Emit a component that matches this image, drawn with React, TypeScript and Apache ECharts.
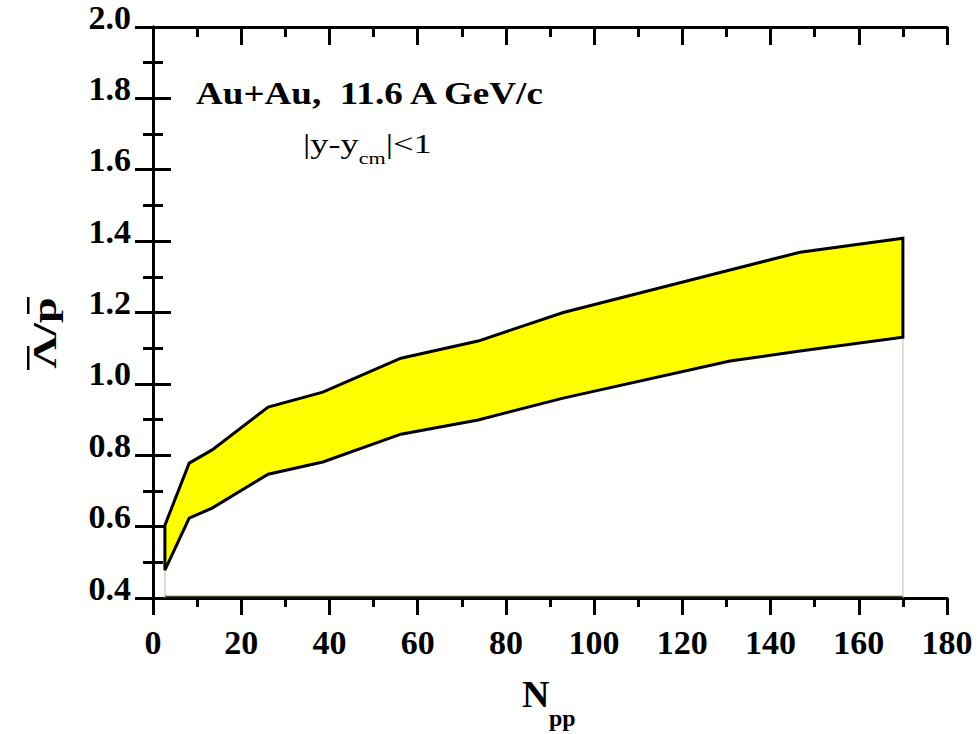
import React, { useEffect, useRef } from "react";
import * as echarts from "echarts";

const nppValues = [2.7, 8.2, 13.4, 26.1, 38.5, 56.2, 73.7, 93.0, 130.8, 146.7, 170.0];
const upperRatio = [0.604, 0.778, 0.815, 0.935, 0.977, 1.072, 1.12, 1.2, 1.319, 1.369, 1.408];
const lowerRatio = [0.478, 0.624, 0.652, 0.747, 0.781, 0.859, 0.899, 0.96, 1.064, 1.092, 1.131];
const yBase = 0.4;
const xTicks = { min: 0, max: 180, interval: 20 };
const yTicks = { min: 0.4, max: 2.0, interval: 0.2 };

const FONT = "Liberation Serif";

function ticks(inside: boolean) {
  return {
    axisLine: { show: true, lineStyle: { color: "#000", width: 3 } },
    axisTick: { show: true, inside, length: inside ? 18 : 17, lineStyle: { color: "#000", width: 3 } },
    minorTick: { show: true, splitNumber: 2, length: inside ? 10 : 9, lineStyle: { color: "#000", width: 3 } },
    splitLine: { show: false },
  };
}

export default function App() {
  const ref = useRef<HTMLDivElement>(null);
  useEffect(() => {
    if (!ref.current) return;
    const chart = echarts.init(ref.current, null, { renderer: "svg" });
    const data = nppValues.map((x, i) => [x, upperRatio[i], lowerRatio[i]]);
    const option: any = {
      animation: false,
      backgroundColor: "#fff",
      grid: { left: 153, right: 32, top: 27, bottom: 136, containLabel: false, outerBoundsMode: "none" },
      xAxis: [
        {
          type: "value",
          ...xTicks,
          ...ticks(false),
          axisLabel: { color: "#000", fontFamily: FONT, fontWeight: "bold", fontSize: 34, margin: 27 },
        },
        {
          type: "value",
          position: "top",
          ...xTicks,
          ...ticks(true),
          axisLabel: { show: false },
        },
      ],
      yAxis: [
        {
          type: "value",
          ...yTicks,
          ...ticks(true),
          axisLabel: {
            color: "#000",
            fontFamily: FONT,
            fontWeight: "bold",
            fontSize: 34,
            margin: 22,
            verticalAlign: "bottom",
            lineHeight: 20,
            formatter: (v: number) => v.toFixed(1),
          },
        },
        {
          type: "value",
          position: "right",
          ...yTicks,
          ...ticks(true),
          axisLabel: { show: false },
        },
      ],
      series: [
        {
          type: "custom",
          data,
          encode: { x: 0, y: [1, 2] },
          z: 1,
          renderItem: (params: any, api: any) => {
            if (params.dataIndex !== 0) return null;
            const up = nppValues.map((x, i) => api.coord([x, upperRatio[i]]));
            const lo = nppValues.map((x, i) => api.coord([x, lowerRatio[i]]));
            const n = nppValues.length;
            const baseL = api.coord([nppValues[0], yBase]);
            const baseR = api.coord([nppValues[n - 1], yBase]);
            const poly = up.concat(lo.slice().reverse());
            return {
              type: "group",
              children: [
                {
                  type: "line",
                  shape: { x1: lo[0][0], y1: lo[0][1], x2: baseL[0], y2: baseL[1] },
                  style: { stroke: "#bbb", lineWidth: 1 },
                },
                {
                  type: "line",
                  shape: { x1: lo[n - 1][0], y1: lo[n - 1][1], x2: baseR[0], y2: baseR[1] },
                  style: { stroke: "#bbb", lineWidth: 1 },
                },
                {
                  type: "line",
                  shape: { x1: baseL[0], y1: baseL[1] - 1.5, x2: baseR[0], y2: baseR[1] - 1.5 },
                  style: { stroke: "#4a4a30", lineWidth: 1.5 },
                },
                {
                  type: "polygon",
                  shape: { points: poly },
                  style: { fill: "#ffff00", stroke: "#000", lineWidth: 3, lineJoin: "miter" },
                },
              ],
            };
          },
        },
      ],
      graphic: [
        {
          type: "text",
          x: 196,
          y: 93,
          scaleX: 1.16,
          style: {
            text: "Au+Au,  11.6 A GeV/c",
            font: `bold 32px ${FONT}`,
            fill: "#000",
            align: "left",
            verticalAlign: "middle",
          },
        },
        {
          type: "text",
          x: 303,
          y: 141,
          scaleX: 1.3,
          style: {
            text: "{a||y-y}{b|cm}{a||<1}",
            align: "left",
            verticalAlign: "middle",
            rich: {
              a: { fontFamily: FONT, fontSize: 28, fill: "#000", verticalAlign: "bottom", lineHeight: 34 },
              b: { fontFamily: FONT, fontSize: 17, fill: "#000", verticalAlign: "bottom", lineHeight: 34, padding: [0, 0, -8, 0] },
            },
          },
        },
        {
          type: "text",
          x: 45,
          y: 333,
          rotation: Math.PI / 2,
          scaleX: 1.35,
          style: {
            text: "\u039B/p",
            font: `bold 34px ${FONT}`,
            fill: "#000",
            align: "center",
            verticalAlign: "middle",
          },
        },
        { type: "rect", shape: { x: 27, y: 346, width: 2.5, height: 24 }, style: { fill: "#000" } },
        { type: "rect", shape: { x: 27, y: 297, width: 2.5, height: 17 }, style: { fill: "#000" } },
        {
          type: "text",
          x: 522,
          y: 694,
          style: {
            text: "N",
            font: `bold 38px ${FONT}`,
            fill: "#000",
            align: "left",
            verticalAlign: "middle",
          },
        },
        {
          type: "text",
          x: 549,
          y: 718,
          style: {
            text: "pp",
            font: `bold 24px ${FONT}`,
            fill: "#000",
            align: "left",
            verticalAlign: "middle",
          },
        },
      ],
    };
    chart.setOption(option);
    return () => chart.dispose();
  }, []);
  return (
    <div
      ref={ref}
      style={{ position: "absolute", left: 0, top: 0, width: 979, height: 734 }}
    />
  );
}
